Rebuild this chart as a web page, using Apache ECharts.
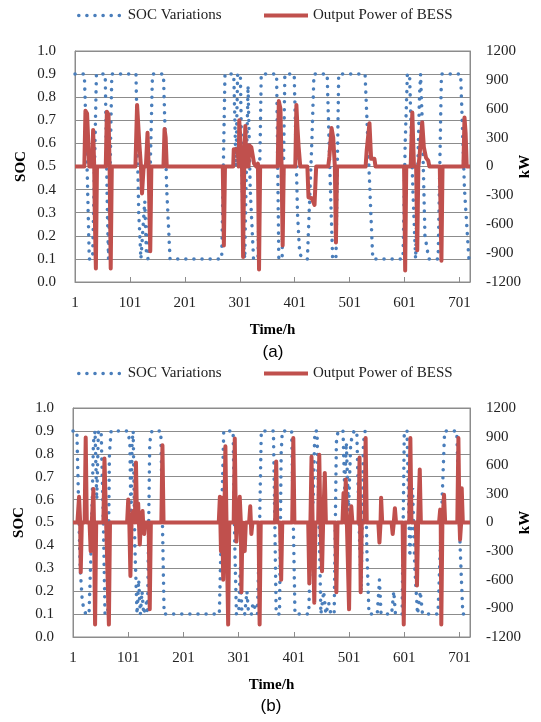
<!DOCTYPE html>
<html>
<head>
<meta charset="utf-8">
<title>SOC and BESS output power</title>
<script src="https://cdn.jsdelivr.net/npm/echarts@6/dist/echarts.min.js"></script>
<style>
  html, body { margin: 0; padding: 0; background: #fff; }
  #chart { width: 541px; height: 722px; }
</style>
</head>
<body>
<div id="chart"></div>
<script>
// [hour, SOC] / [hour, kW] break points
var socA = [[1,0.9],[18,0.9],[22,0.6],[27,0.1],[33,0.1],[40,0.9],[56,0.9],[60,0.3],[62,0.1],[64,0.1],[68,0.9],
  [112,0.9],[117,0.3],[121,0.1],[124,0.1],[128,0.35],[131,0.12],[134,0.1],[137,0.4],[142,0.9],[162,0.9],[168,0.4],
  [174,0.1],[268,0.1],[274,0.9],[290,0.9],[294,0.5],[297,0.9],[302,0.9],[307,0.2],[310,0.1],[313,0.5],[316,0.85],
  [320,0.4],[326,0.1],[334,0.1],[338,0.6],[340,0.9],[368,0.9],[372,0.1],[378,0.1],[383,0.9],[400,0.9],[406,0.3],
  [410,0.12],[418,0.1],[424,0.1],[432,0.6],[436,0.9],[460,0.9],[466,0.4],[470,0.1],[476,0.1],[481,0.9],[529,0.9],
  [536,0.5],[543,0.1],[598,0.1],[602,0.6],[606,0.9],[610,0.9],[616,0.4],[621,0.1],[624,0.1],[628,0.8],[630,0.9],
  [633,0.7],[638,0.2],[645,0.1],[662,0.1],[668,0.9],[703,0.9],[710,0.4],[718,0.1],[720,0.1]];

var powerA = [[1,0],[18,0],[20,580],[23,550],[27,0],[32,0],[34,380],[36,0],[37,-500],[39,-1060],[41,0],
  [57,0],[59,570],[62,540],[64,0],[66,-1060],[68,0],[111,0],[114,640],[118,250],[121,0],[123,-280],[126,0],
  [130,0],[133,350],[135,0],[138,-880],[140,0],[162,0],[164,390],[166,300],[168,0],[270,0],[272,-820],[274,0],
  [289,0],[290,180],[297,180],[299,0],[300,480],[303,460],[305,0],[307,-940],[309,0],[311,420],[313,0],[317,0],
  [318,220],[322,200],[327,30],[331,0],[334,30],[336,-1070],[338,0],[370,0],[372,680],[375,600],[377,0],
  [379,-820],[381,0],[402,0],[404,640],[406,400],[408,210],[410,200],[411,0],[424,0],[426,-320],[432,-330],
  [437,-400],[440,0],[462,0],[464,100],[468,400],[471,300],[474,0],[476,-790],[478,0],[530,0],[532,170],
  [537,450],[540,80],[546,80],[548,0],[600,0],[602,-1080],[604,0],[612,0],[615,560],[618,0],[622,0],[624,-870],
  [626,0],[628,100],[633,460],[636,200],[640,90],[644,60],[646,0],[665,0],[668,-980],[670,0],[708,0],[710,510],
  [712,350],[714,0],[720,0]];

var socB = [[1,0.9],[8,0.9],[11,0.6],[14,0.3],[18,0.15],[24,0.1],[30,0.1],[34,0.4],[38,0.85],[41,0.9],[44,0.6],
  [47,0.9],[52,0.9],[56,0.5],[59,0.1],[64,0.1],[67,0.8],[70,0.9],[100,0.9],[104,0.85],[106,0.5],[108,0.85],
  [110,0.9],[113,0.4],[117,0.1],[120,0.25],[123,0.1],[126,0.2],[129,0.1],[134,0.15],[136,0.1],[140,0.85],
  [144,0.9],[160,0.9],[166,0.1],[266,0.1],[270,0.5],[274,0.9],[291,0.9],[294,0.4],[297,0.1],[301,0.1],[304,0.3],
  [307,0.1],[312,0.1],[316,0.2],[319,0.1],[324,0.1],[327,0.15],[335,0.1],[339,0.5],[342,0.9],[364,0.9],[369,0.1],
  [375,0.1],[378,0.8],[380,0.9],[397,0.9],[403,0.1],[428,0.1],[432,0.5],[436,0.6],[439,0.9],[443,0.9],[447,0.45],
  [450,0.1],[455,0.2],[459,0.1],[464,0.15],[468,0.1],[474,0.1],[478,0.85],[481,0.9],[490,0.9],[493,0.65],
  [496,0.85],[500,0.55],[504,0.85],[510,0.9],[515,0.9],[519,0.5],[523,0.2],[527,0.85],[530,0.9],[533,0.4],
  [537,0.1],[552,0.1],[556,0.25],[559,0.1],[578,0.1],[582,0.2],[585,0.1],[597,0.1],[601,0.9],[606,0.9],
  [611,0.35],[616,0.65],[620,0.3],[625,0.1],[630,0.2],[634,0.1],[662,0.1],[668,0.5],[674,0.9],[696,0.9],
  [702,0.4],[707,0.1],[720,0.1]];

var powerB = [[1,0],[9,0],[12,270],[14,0],[15,-520],[17,0],[22,0],[24,890],[26,0],[31,0],[33,-300],[35,0],
  [38,350],[39,0],[41,-1070],[43,0],[56,0],[58,670],[61,0],[62,0],[66,-1070],[68,0],[99,0],[101,240],[103,0],
  [105,-560],[107,0],[110,120],[113,0],[115,630],[117,0],[119,200],[121,200],[122,-230],[124,0],[127,120],[128,0],
  [130,-120],[132,0],[138,0],[140,-910],[142,0],[161,0],[163,810],[165,0],[265,0],[267,270],[269,-300],[271,260],
  [273,-600],[275,0],[277,800],[279,0],[282,-1070],[284,0],[292,0],[294,880],[296,0],[297,-200],[299,0],[302,0],
  [303,270],[305,0],[306,-730],[308,0],[312,-300],[314,0],[320,0],[322,170],[324,-120],[326,0],[337,0],
  [339,-1070],[341,0],[367,0],[369,640],[371,0],[376,0],[378,-600],[380,0],[398,0],[400,885],[402,0],[427,0],
  [429,-640],[431,0],[433,690],[435,0],[438,-840],[440,0],[445,0],[447,710],[449,0],[452,-510],[454,0],[457,520],
  [459,0],[476,0],[478,-730],[480,0],[489,0],[491,310],[493,0],[495,450],[497,0],[501,-910],[503,0],[505,170],
  [507,0],[518,0],[520,680],[522,-730],[524,0],[529,0],[531,885],[533,0],[554,0],[556,-210],[558,0],[559,260],
  [561,0],[578,0],[580,-120],[582,0],[584,150],[586,0],[598,0],[600,-1070],[602,0],[610,0],[612,885],[614,0],
  [622,0],[624,-660],[626,0],[627,0],[629,555],[631,0],[664,0],[666,135],[667,0],[668,-1070],[670,0],[673,290],
  [675,0],[697,0],[699,885],[701,0],[702,-180],[704,0],[705,360],[707,0],[720,0]];

var serif = '"Liberation Serif", "Times New Roman", serif';
var grey = '#8c8c8c';
var blue = '#4A7EBB';
var red = '#C0504D';
var dots = [0.1, 8];

function xAxisFor(gi) {
  return {
    type: 'value', gridIndex: gi, min: 1, max: 720, interval: 100,
    name: 'Time/h', nameLocation: 'middle', nameGap: 41,
    nameTextStyle: { fontFamily: serif, fontSize: 15, fontWeight: 'bold', color: '#000' },
    axisLine: { lineStyle: { color: grey } },
    axisTick: { inside: true, length: 5, lineStyle: { color: grey } },
    axisLabel: { fontFamily: serif, fontSize: 15, color: '#222', margin: 14, showMaxLabel: false,
      formatter: function (v) { return String(v); } },
    splitLine: { show: false }
  };
}

function socAxisFor(gi) {
  return {
    type: 'value', gridIndex: gi, position: 'left', min: 0, max: 1, interval: 0.1,
    name: 'SOC', nameLocation: 'middle', nameGap: 46, nameRotate: 90, nameMoveOverlap: false,
    nameTextStyle: { fontFamily: serif, fontSize: 15, fontWeight: 'bold', color: '#000' },
    axisLine: { show: true, lineStyle: { color: grey } },
    axisTick: { show: false },
    axisLabel: { fontFamily: serif, fontSize: 15, color: '#222', margin: 19,
      formatter: function (v) { return v.toFixed(1); } },
    splitLine: { show: true, lineStyle: { color: grey, width: 1 } }
  };
}

function kwAxisFor(gi) {
  return {
    type: 'value', gridIndex: gi, position: 'right', min: -1200, max: 1200, interval: 300,
    name: 'kW', nameLocation: 'middle', nameGap: 48, nameRotate: 90, nameMoveOverlap: false,
    nameTextStyle: { fontFamily: serif, fontSize: 15, fontWeight: 'bold', color: '#000' },
    axisLine: { show: true, lineStyle: { color: grey } },
    axisTick: { show: false },
    axisLabel: { fontFamily: serif, fontSize: 15, color: '#222', margin: 16,
      formatter: function (v) { return String(v); } },
    splitLine: { show: false }
  };
}

function legendsAt(top) {
  var txt = { fontFamily: serif, fontSize: 15, color: '#222' };
  return [
    { top: top, left: 77, padding: 0, itemWidth: 44, itemHeight: 10, textStyle: txt,
      selectedMode: false,
      data: [{ name: 'SOC Variations', itemStyle: { opacity: 0 },
        lineStyle: { color: blue, width: 3.5, type: dots, cap: 'round' } }] },
    { top: top, left: 264, padding: 0, itemWidth: 44, itemHeight: 4, textStyle: txt,
      selectedMode: false,
      data: [{ name: 'Output Power of BESS', icon: 'rect', itemStyle: { color: red } }] }
  ];
}

function seriesFor(gi, soc, power) {
  return [
    { name: 'SOC Variations', type: 'line', xAxisIndex: gi, yAxisIndex: gi * 2, data: soc,
      symbol: 'none', z: 2, itemStyle: { color: blue },
      lineStyle: { color: blue, width: 3.5, type: dots, cap: 'round' } },
    { name: 'Output Power of BESS', type: 'line', xAxisIndex: gi, yAxisIndex: gi * 2 + 1, data: power,
      symbol: 'none', z: 3, itemStyle: { color: red },
      lineStyle: { color: red, width: 4, join: 'round' } }
  ];
}

var chart = echarts.init(document.getElementById('chart'), null, { renderer: 'canvas' });
chart.setOption({
  animation: false,
  backgroundColor: '#fff',
  legend: legendsAt(8).concat(legendsAt(366)),
  grid: [
    { left: 75, top: 51, width: 400, height: 231, show: true, borderColor: grey, borderWidth: 1 },
    { left: 73, top: 408, width: 398, height: 229, show: true, borderColor: grey, borderWidth: 1 }
  ],
  xAxis: [xAxisFor(0), xAxisFor(1)],
  yAxis: [socAxisFor(0), kwAxisFor(0), socAxisFor(1), kwAxisFor(1)],
  series: seriesFor(0, socA, powerA).concat(seriesFor(1, socB, powerB)),
  graphic: [
    { type: 'text', x: 273, y: 352, style: { text: '(a)', textAlign: 'center', textVerticalAlign: 'middle',
      font: '17px "Liberation Sans", Arial, sans-serif', fill: '#000' } },
    { type: 'text', x: 271, y: 706, style: { text: '(b)', textAlign: 'center', textVerticalAlign: 'middle',
      font: '17px "Liberation Sans", Arial, sans-serif', fill: '#000' } }
  ]
});
</script>
</body>
</html>
